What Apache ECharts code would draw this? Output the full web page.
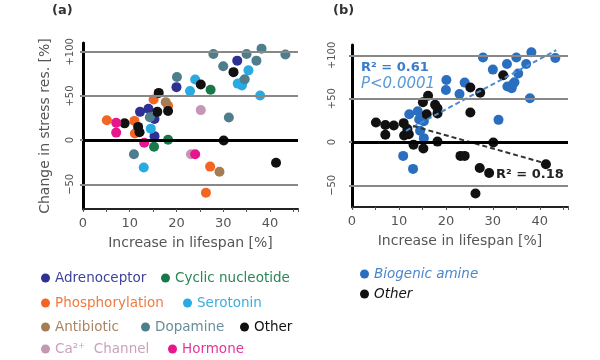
<!DOCTYPE html>
<html><head><meta charset="utf-8">
<script src="https://cdn.jsdelivr.net/npm/echarts@6/dist/echarts.min.js"></script>
<style>html,body{margin:0;padding:0;background:#fff}#c{width:600px;height:360px}</style>
</head><body><div id="c"></div>
<script>
// ---- data (x: increase in lifespan %, y: change in stress resistance %) ----
const yTicks = [-50, 0, 50, 100];
const yTickLabels = ['\u221250', '0', '+50', '+100'];

const adrenoceptor = [[33.0,90],[20.0,60],[12.2,32],[14.0,35.5],[15.3,24],[15.3,4.5]];
const cyclicNucleotide = [[27.3,57],[18.2,0.5],[15.2,-7.5]];
const phosphorylation = [[5.1,22.6],[11.0,21.8],[11.1,7.5],[15.1,46],[18.2,39],[27.2,-30],[26.3,-59.5]];
const serotonin = [[35.4,79],[33.1,64],[34.3,67],[34.0,62],[37.9,50.5],[24.0,68.6],[22.9,55.5],[14.5,13],[13.0,-31]];
const antibiotic = [[29.2,-35.8],[17.7,43]];
const dopamine = [[27.9,97.5],[30.0,83.6],[35.0,97.5],[38.2,103.6],[37.1,90],[43.3,97],[34.6,69],[31.2,25.6],[20.1,71.5],[10.9,-16],[14.3,26]];
const other = [[32.2,77],[25.2,63],[16.2,53.5],[18.2,33],[15.9,32],[11.8,15],[12.1,9],[8.9,19],[30.1,-0.5],[41.3,-25.6]];
const caChannel = [[25.2,34],[23.1,-16]];
const hormone = [[7.1,19.6],[7.1,8.5],[13.1,-3],[24.0,-16]];

const biogenicTrend = [[11.5,13],[43.5,106]];
const otherTrend = [[13,18.5],[40.8,-24]];

// ---- styling ----
const F = 'DejaVu Sans, Verdana, sans-serif';
const NARROW = "'Liberation Sans Narrow', 'DejaVu Sans Condensed', Arial, sans-serif";
const cats = [
  {name:'Adrenoceptor', data:adrenoceptor, color:'#2e3192', text:'#3f4399', pos:[41,271]},
  {name:'Cyclic nucleotide', data:cyclicNucleotide, color:'#17784a', text:'#2a8656', pos:[161,271]},
  {name:'Phosphorylation', data:phosphorylation, color:'#f26522', text:'#f07a40', pos:[41,296]},
  {name:'Serotonin', data:serotonin, color:'#29abe2', text:'#3aaee0', pos:[183,296]},
  {name:'Antibiotic', data:antibiotic, color:'#a67c52', text:'#a98462', pos:[41,320]},
  {name:'Dopamine', data:dopamine, color:'#4e7d8c', text:'#6a8e9a', pos:[141,320]},
  {name:'Other', data:other, color:'#111111', text:'#111111', pos:[240,320]},
  {name:'Ca\u00b2\u207a  Channel', data:caChannel, color:'#c497b5', text:'#c8a2bc', pos:[41,342]},
  {name:'Hormone', data:hormone, color:'#e6178c', text:'#e2389a', pos:[168,342]}
];
const BLUE = '#2a6ebf';
const biogenic = adrenoceptor.concat(serotonin, dopamine);
const otherB = cyclicNucleotide.concat(phosphorylation, antibiotic, other, caChannel, hormone);

function gridLines() {
  return {
    silent: true, symbol: 'none', label: {show: false}, animation: false,
    data: [
      {yAxis: -50, lineStyle: {color: '#888', width: 2, type: 'solid'}},
      {yAxis: 50, lineStyle: {color: '#888', width: 2, type: 'solid'}},
      {yAxis: 100, lineStyle: {color: '#888', width: 2, type: 'solid'}},
      {yAxis: 0, lineStyle: {color: '#000', width: 3, type: 'solid'}}
    ]
  };
}
function xAxis(gi) {
  return {
    gridIndex: gi, type: 'value', min: 0, max: 46, interval: 5,
    name: 'Increase in lifespan [%]', nameLocation: 'middle', nameGap: 27,
    nameTextStyle: {fontFamily: F, fontSize: 14, color: '#555'},
    axisLine: {onZero: false, lineStyle: {color: '#222', width: 2}},
    axisTick: {length: 3, lineStyle: {color: '#555', width: 1}},
    splitLine: {show: false},
    axisLabel: {fontFamily: F, fontSize: 13, color: '#555', margin: 8,
      formatter: v => (v % 10 === 0 ? String(v) : '')}
  };
}
function yAxis(gi, min, max, margin, withName) {
  const a = {
    gridIndex: gi, type: 'value', min: min, max: max,
    axisLine: {onZero: false, lineStyle: {color: '#000', width: 3}},
    axisTick: {customValues: yTicks, length: 3, lineStyle: {color: '#888', width: 2}},
    splitLine: {show: false},
    axisLabel: {customValues: yTicks, rotate: 90, margin: margin, fontFamily: NARROW, fontSize: 11, color: '#555',
      formatter: v => yTickLabels[yTicks.indexOf(v)]}
  };
  if (withName) {
    a.name = 'Change in stress res. [%]';
    a.nameLocation = 'middle'; a.nameGap = 31; a.nameRotate = 90;
    a.nameTextStyle = {fontFamily: F, fontSize: 14, color: '#555'};
  }
  return a;
}

const series = [
  {type: 'scatter', xAxisIndex: 0, yAxisIndex: 0, data: [], z: 1, markLine: gridLines()},
  {type: 'scatter', xAxisIndex: 1, yAxisIndex: 1, data: [], z: 1, markLine: gridLines()}
];
cats.forEach(c => series.push({
  name: c.name, type: 'scatter', xAxisIndex: 0, yAxisIndex: 0, data: c.data,
  symbolSize: 10, itemStyle: {color: c.color, opacity: 1}, z: 3
}));
series.push({name: 'Biogenic amine', type: 'scatter', xAxisIndex: 1, yAxisIndex: 1, data: biogenic,
  symbolSize: 10, itemStyle: {color: BLUE, opacity: 1}, z: 3});
series.push({name: 'Other', type: 'scatter', xAxisIndex: 1, yAxisIndex: 1, data: otherB,
  symbolSize: 10, itemStyle: {color: '#111', opacity: 1}, z: 3});
series.push({type: 'line', xAxisIndex: 1, yAxisIndex: 1, data: biogenicTrend, symbol: 'none', z: 4,
  lineStyle: {color: '#4a8ad0', width: 2, type: [5, 3]}});
series.push({type: 'line', xAxisIndex: 1, yAxisIndex: 1, data: otherTrend, symbol: 'none', z: 4,
  lineStyle: {color: '#333', width: 2, type: [5, 3]}});

const legends = cats.map(c => ({
  left: c.pos[0], top: c.pos[1], padding: 0, itemWidth: 9, itemHeight: 9, icon: 'circle',
  selectedMode: false,
  textStyle: {fontFamily: F, fontSize: 13.5, color: c.text},
  data: [{name: c.name}]
}));
legends.push({left: 360, top: 267, padding: 0, itemWidth: 9, itemHeight: 9, icon: 'circle', selectedMode: false,
  textStyle: {fontFamily: F, fontSize: 13.5, fontStyle: 'italic', color: '#4a86cc'}, data: [{name: 'Biogenic amine'}]});
legends.push({left: 360, top: 287, padding: 0, itemWidth: 9, itemHeight: 9, icon: 'circle', selectedMode: false,
  textStyle: {fontFamily: F, fontSize: 13.5, fontStyle: 'italic', color: '#111'}, data: [{name: 'Other'}]});

const chart = echarts.init(document.getElementById('c'), null, {renderer: 'canvas'});
chart.setOption({
  animation: false,
  backgroundColor: '#fff',
  title: [
    {text: '(a)', left: 52, top: 4, padding: 0, textStyle: {fontFamily: F, fontSize: 13, fontWeight: 'bold', color: '#333'}},
    {text: '(b)', left: 333, top: 4, padding: 0, textStyle: {fontFamily: F, fontSize: 13, fontWeight: 'bold', color: '#333'}}
  ],
  grid: [
    {left: 83, top: 43, width: 215, height: 166},
    {left: 352, top: 45, width: 216, height: 162}
  ],
  xAxis: [xAxis(0), xAxis(1)],
  yAxis: [yAxis(0, -78, 110, 7, true), yAxis(1, -75, 112, 14, false)],
  legend: legends,
  series: series,
  graphic: [
    {type: 'text', left: 361, top: 61, style: {text: 'R\u00b2 = 0.61', font: 'bold 13px ' + F, fill: '#3a7cc8'}},
    {type: 'text', left: 361, top: 77, style: {text: 'P<0.0001', font: 'italic 15px ' + F, fill: '#5a98d6'}},
    {type: 'text', left: 496, top: 168, style: {text: 'R\u00b2 = 0.18', font: 'bold 13px ' + F, fill: '#222'}}
  ]
});
</script>
</body></html>
